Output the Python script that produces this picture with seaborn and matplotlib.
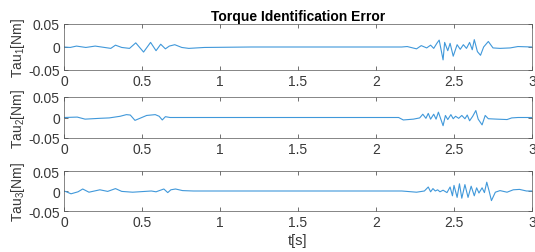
import numpy as np
import pandas as pd
import matplotlib
matplotlib.use("Agg")
import matplotlib.pyplot as plt
import seaborn as sns

# ─── Data (time [s], error [Nm]) ───
t1 = [0.0, 0.04, 0.08, 0.14, 0.2, 0.26, 0.3, 0.33, 0.37, 0.42, 0.46, 0.51, 0.555, 0.59,
      0.62, 0.65, 0.675, 0.71, 0.755, 0.8, 0.9, 1.2, 1.6, 2.0, 2.165, 2.2, 2.26, 2.29,
      2.325, 2.35, 2.37, 2.39, 2.405, 2.43, 2.44, 2.46, 2.475, 2.495, 2.52, 2.54, 2.56,
      2.58, 2.6, 2.617, 2.63, 2.65, 2.67, 2.69, 2.72, 2.75, 2.795, 2.86, 2.91, 3.0]
tau1 = [0.0, -0.001, 0.002, -0.001, 0.002, -0.001, -0.003, 0.004, -0.001, -0.003, 0.009,
        -0.011, 0.010, -0.008, 0.006, -0.004, 0.002, 0.005, -0.001, -0.003, -0.001, 0.0,
        0.0, 0.0, 0.0, 0.001, -0.004, 0.003, -0.002, 0.004, -0.003, 0.008, 0.015, -0.028,
        0.010, -0.008, 0.008, -0.020, 0.005, -0.005, 0.005, -0.003, 0.010, -0.006, 0.016,
        -0.010, -0.018, 0.0, 0.012, -0.002, -0.003, -0.002, 0.001, 0.0]

t2 = [0.0, 0.085, 0.135, 0.23, 0.29, 0.36, 0.4, 0.425, 0.455, 0.48, 0.53, 0.585, 0.61,
      0.63, 0.65, 0.68, 1.0, 1.5, 2.0, 2.145, 2.175, 2.24, 2.28, 2.3, 2.32, 2.335, 2.35,
      2.37, 2.385, 2.4, 2.43, 2.445, 2.46, 2.48, 2.495, 2.51, 2.53, 2.55, 2.57, 2.585,
      2.6, 2.62, 2.64, 2.655, 2.68, 2.7, 2.72, 2.775, 2.84, 2.87, 2.91, 3.0]
tau2 = [0.0, 0.001, -0.004, -0.002, -0.001, 0.003, 0.007, 0.006, -0.007, -0.003, 0.005,
        0.007, 0.003, -0.006, 0.002, 0.0, 0.0, 0.0, 0.0, 0.0, -0.006, -0.004, -0.001,
        0.008, -0.002, 0.010, -0.004, 0.008, -0.004, 0.013, -0.020, 0.005, -0.005, 0.007,
        -0.003, 0.003, -0.002, 0.005, -0.003, 0.006, -0.008, 0.003, 0.017, -0.004, -0.018,
        0.005, -0.003, -0.004, -0.005, -0.001, 0.0, 0.0]

t3 = [0.0, 0.015, 0.045, 0.09, 0.12, 0.16, 0.23, 0.28, 0.33, 0.37, 0.44, 0.48, 0.56,
      0.59, 0.64, 0.665, 0.685, 0.715, 0.76, 0.83, 1.2, 1.6, 2.0, 2.165, 2.26, 2.31,
      2.335, 2.35, 2.365, 2.38, 2.395, 2.41, 2.43, 2.455, 2.475, 2.49, 2.5, 2.52, 2.535,
      2.55, 2.57, 2.59, 2.61, 2.63, 2.645, 2.66, 2.68, 2.695, 2.71, 2.725, 2.74, 2.765,
      2.795, 2.84, 2.88, 2.92, 2.965, 3.0]
tau3 = [0.0, -0.002, -0.007, -0.002, 0.005, -0.003, 0.003, -0.001, 0.006, -0.001, -0.003,
        -0.002, 0.0, -0.002, 0.005, -0.004, 0.003, 0.005, 0.001, 0.0, 0.0, 0.0, 0.0, 0.0,
        -0.003, 0.0, 0.010, -0.002, 0.006, 0.0, 0.003, -0.002, 0.002, -0.004, 0.010,
        -0.012, 0.014, -0.016, 0.018, -0.018, 0.016, -0.016, 0.012, -0.012, 0.008, -0.005,
        0.008, -0.004, 0.022, 0.0, -0.024, -0.003, 0.001, -0.003, 0.003, 0.004, 0.0, 0.0]

series = [(t1, tau1, "Tau$_1$[Nm]"), (t2, tau2, "Tau$_2$[Nm]"), (t3, tau3, "Tau$_3$[Nm]")]
x_ticks = [0, 0.5, 1, 1.5, 2, 2.5, 3]
x_ticklabels = ["0", "0.5", "1", "1.5", "2", "2.5", "3"]
y_ticks = [-0.05, 0, 0.05]
y_ticklabels = ["-0.05", "0", "0.05"]

sns.set_style("ticks")
plt.rcParams["font.family"] = ["Liberation Sans", "DejaVu Sans"]
plt.rcParams["mathtext.fontset"] = "custom"
plt.rcParams["mathtext.rm"] = "Liberation Sans"
plt.rcParams["mathtext.it"] = "Liberation Sans"

W, H = 535, 253
fig = plt.figure(figsize=(W / 100, H / 100), dpi=100)
fig.patch.set_facecolor("white")

# axes boxes in pixels: (top, bottom)
boxes = [(25, 71), (98, 139), (172, 212)]
left, right = 64, 532
line_color = "#4098da"
gray = "#383838"

for (t, v, label), (top, bot) in zip(series, boxes):
    ax = fig.add_axes([left / W, 1 - bot / H, (right - left) / W, (bot - top) / H])
    df = pd.DataFrame({"t": t, "tau": v})
    sns.lineplot(data=df, x="t", y="tau", ax=ax, color=line_color, linewidth=0.8)
    ax.set_xlim(0, 3)
    ax.set_ylim(-0.05, 0.05)
    ax.set_xticks(x_ticks)
    ax.set_xticklabels(x_ticklabels)
    ax.set_yticks(y_ticks)
    ax.set_yticklabels(y_ticklabels)
    ax.set_xlabel("")
    ax.set_ylabel(label, fontsize=10, color=gray, labelpad=1)
    ax.tick_params(direction="in", top=True, right=True, length=3, width=0.5,
                   labelsize=10, colors=gray, pad=3)
    for s in ax.spines.values():
        s.set_visible(True)
        s.set_linewidth(0.5)
        s.set_color("#555555")
    if top == 25:
        ax.set_title("Torque Identification Error", fontsize=10, fontweight="bold",
                     color="black", pad=3)
    if top == 172:
        ax.set_xlabel("t[s]", fontsize=10.5, color=gray, labelpad=3)

fig.savefig("out.png", dpi=100, facecolor="white")
